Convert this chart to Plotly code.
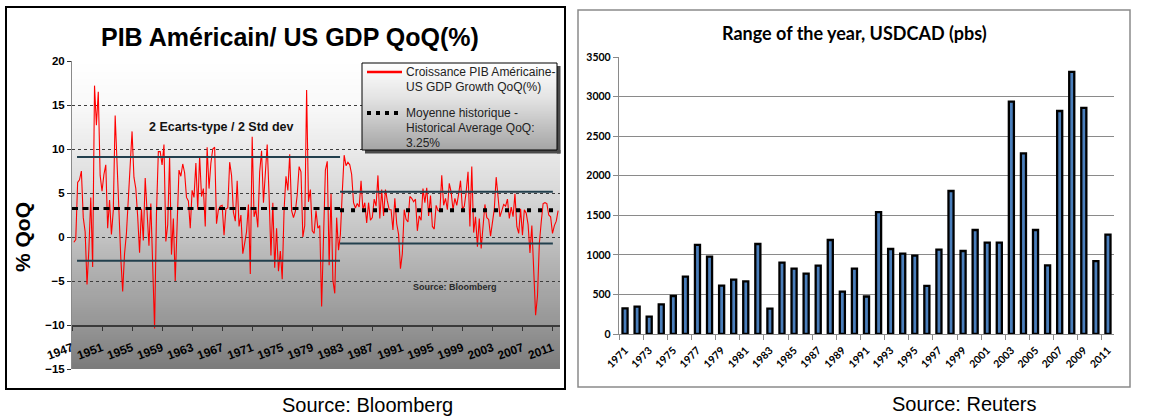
import zlib
import struct
import base64
import plotly.graph_objects as go

W, H = 1160, 419

# ---------------- data : left chart (US GDP QoQ, annualised %) ----------------
GDP_FIRST_QUARTER = 1947.25          # 1947 Q2
GDP_QOQ = [
    -0.6, -0.3, 6.2,                  # 1947
    6.5, 7.5, 2.2, 0.6,               # 1948
    -5.4, -1.4, 4.5, -3.4,            # 1949
    17.2, 12.7, 16.5, 7.0,            # 1950
    5.2, 7.1, 8.2, 1.0,               # 1951
    4.2, 0.3, 3.0, 13.8,              # 1952
    7.6, 3.1, -2.4, -6.2,             # 1953
    -1.9, 0.4, 4.6, 8.1,              # 1954
    12.0, 6.8, 5.5, 2.3,              # 1955
    -1.8, 3.2, -0.4, 6.7,             # 1956
    2.6, -1.0, 3.8, -4.1,             # 1957
    -10.4, 2.6, 9.7, 9.7,             # 1958
    8.2, 10.5, -0.5, 1.4,             # 1959
    9.2, -2.0, 2.1, -5.0,             # 1960
    2.5, 7.6, 6.9, 8.3,               # 1961
    7.3, 4.5, 4.1, 1.0,               # 1962
    5.3, 4.5, 8.4, 3.1,               # 1963
    9.2, 4.6, 5.5, 1.2,               # 1964
    10.2, 5.5, 8.4, 10.0,             # 1965
    10.2, 1.5, 3.1, 3.5,              # 1966
    3.6, 0.2, 3.2, 3.3,               # 1967
    8.5, 7.0, 2.8, 1.8,               # 1968
    6.4, 1.2, 2.5, -1.9,              # 1969
    -0.7, 0.6, 3.7, -4.2,             # 1970
    11.4, 2.3, 3.1, 1.1,              # 1971
    7.4, 9.8, 3.9, 6.8,               # 1972
    10.5, 4.7, -2.1, 3.9,             # 1973
    -3.5, 1.0, -3.9, -1.6,            # 1974
    -4.8, 3.1, 6.9, 5.3,              # 1975
    9.4, 3.0, 2.2, 2.9,               # 1976
    4.8, 8.0, 7.4, 0.0,               # 1977
    1.3, 16.7, 4.0, 5.4,              # 1978
    0.7, 0.4, 3.0, 1.0,               # 1979
    1.3, -7.9, -0.7, 7.6,             # 1980
    8.6, -3.2, 4.9, -4.9,             # 1981
    -6.4, 2.2, -1.5, 0.3,             # 1982
    5.1, 9.3, 8.1, 8.5,               # 1983
    8.2, 7.1, 3.9, 3.3,               # 1984
    3.8, 3.4, 6.4, 3.1,               # 1985
    3.9, 1.6, 3.9, 1.9,               # 1986
    2.2, 4.3, 3.5, 7.0,               # 1987
    2.1, 5.4, 2.4, 5.4,               # 1988
    4.1, 3.1, 3.1, 0.8,               # 1989
    4.4, 1.5, 0.3, -3.6,              # 1990
    -1.9, 3.1, 2.0, 1.7,              # 1991
    4.6, 4.4, 4.0, 4.3,               # 1992
    0.7, 2.4, 1.9, 5.5,               # 1993
    3.9, 5.6, 2.4, 4.7,               # 1994
    1.2, 0.9, 3.6, 3.0,               # 1995
    2.9, 7.0, 3.6, 4.4,               # 1996
    3.1, 6.1, 5.1, 3.1,               # 1997
    4.4, 3.6, 4.9, 6.4,               # 1998
    3.2, 3.5, 5.1, 7.4,               # 1999
    1.2, 8.0, 0.5, 2.3,               # 2000
    -1.1, 2.1, -1.3, 1.1,             # 2001
    3.7, 2.2, 2.0, 0.1,               # 2002
    1.6, 3.2, 6.8, 4.6,               # 2003
    2.3, 3.0, 3.7, 3.5,               # 2004
    4.3, 2.1, 3.4, 2.3,               # 2005
    4.9, 1.2, 0.4, 3.2,               # 2006
    0.2, 3.1, 2.7, 1.4,               # 2007
    -1.8, 1.3, -3.7, -8.9,            # 2008
    -6.7, -0.7, 1.7, 3.8,             # 2009
    3.9, 3.8, 2.5, 2.3,               # 2010
    0.4, 1.3, 1.8, 3.0,               # 2011
]
# historical average segments: (from, to, level)
AVG_SEGMENTS = [(1947.0, 1982.7, 3.25), (1982.7, 2012.0, 3.05)]
# two-standard-deviation bands: (from, to, upper, lower)
STD_BANDS = [(1947.67, 1982.7, 9.1, -2.7), (1982.7, 2011.05, 5.15, -0.75)]
GDP_TICK_YEARS = list(range(1947, 2012, 4))
GDP_Y_TICKS = [-15, -10, -5, 0, 5, 10, 15, 20]

# ---------------- data : right chart (USDCAD yearly range, pips) ----------------
USDCAD_YEARS = list(range(1971, 2012))
USDCAD_RANGE = [325, 345, 220, 375, 480, 724, 1125, 977, 611, 687,
                666, 1137, 320, 901, 825, 762, 863, 1188, 535, 825,
                474, 1541, 1074, 1015, 990, 607, 1066, 1807, 1049, 1314,
                1154, 1154, 2936, 2283, 1314, 868, 2818, 3311, 2856, 922,
                1255]
USDCAD_TICK_YEARS = USDCAD_YEARS[::2]
USDCAD_Y_TICKS = [0, 500, 1000, 1500, 2000, 2500, 3000, 3500]

# ---------------- helpers ----------------
ARIAL = "Liberation Sans, Arial, sans-serif"
CALI = "Lato, Carlito, Calibri, sans-serif"


def px(x):
    return x / W


def py(y):
    return 1 - y / H


def gradient_png(stops, n=160, w=4):
    rows = []
    for i in range(n):
        t = i / (n - 1)
        for (t0, g0), (t1, g1) in zip(stops[:-1], stops[1:]):
            if t0 <= t <= t1:
                g = g0 + (g1 - g0) * (t - t0) / (t1 - t0)
                break
        g = int(round(g))
        rows.append(b"\x00" + bytes([g, g, g]) * w)
    raw = b"".join(rows)

    def chunk(tag, data):
        c = struct.pack(">I", len(data)) + tag + data
        return c + struct.pack(">I", zlib.crc32(tag + data) & 0xFFFFFFFF)

    ihdr = struct.pack(">IIBBBBB", w, n, 8, 2, 0, 0, 0)
    png = (b"\x89PNG\r\n\x1a\n" + chunk(b"IHDR", ihdr)
           + chunk(b"IDAT", zlib.compress(raw)) + chunk(b"IEND", b""))
    return "data:image/png;base64," + base64.b64encode(png).decode()


# plot areas (pixels)
LX0, LX1, LY0, LY1 = 72, 560, 61, 369
RX0, RX1, RY0, RY1 = 619, 1114, 57, 334
L_YMIN, L_YMAX = -15, 20

fig = go.Figure()

# ---------------- left chart traces ----------------
gdp_x = [GDP_FIRST_QUARTER + 0.25 * i for i in range(len(GDP_QOQ))]
fig.add_trace(go.Scatter(x=gdp_x, y=GDP_QOQ, mode="lines",
                         line=dict(color="#ff0000", width=1.1),
                         xaxis="x", yaxis="y", hoverinfo="skip"))
for x0, x1, up, lo in STD_BANDS:
    for v in (up, lo):
        fig.add_trace(go.Scatter(x=[x0, x1], y=[v, v], mode="lines",
                                 line=dict(color="#23404e", width=2),
                                 xaxis="x", yaxis="y", hoverinfo="skip"))
avg_styles = [dict(width=3, dash="6px,4.5px"), dict(width=4, dash="4px,7px")]
for (x0, x1, v), st in zip(AVG_SEGMENTS, avg_styles):
    fig.add_trace(go.Scatter(x=[x0, x1], y=[v, v], mode="lines",
                             line=dict(color="#000000", **st),
                             xaxis="x", yaxis="y", hoverinfo="skip"))

# ---------------- right chart traces ----------------
fig.add_trace(go.Bar(x=USDCAD_YEARS, y=USDCAD_RANGE, width=0.42,
                     marker=dict(color="#4a7ebb",
                                 line=dict(color="#000000", width=2.3)),
                     xaxis="x2", yaxis="y2", hoverinfo="skip"))

# ---------------- axes ----------------
ydom_l = [py(LY1), py(LY0)]
x_axis_pos = ydom_l[0] + (-10 - L_YMIN) / (L_YMAX - L_YMIN) * (ydom_l[1] - ydom_l[0])

fig.update_layout(
    width=W, height=H, autosize=False,
    margin=dict(l=0, r=0, t=0, b=0, pad=0, autoexpand=False),
    paper_bgcolor="white", plot_bgcolor="rgba(0,0,0,0)",
    showlegend=False, bargap=0,
    xaxis=dict(domain=[px(LX0), px(LX1)], range=[1947, 2012],
               anchor="free", position=x_axis_pos, automargin=False,
               tickmode="array", tickvals=GDP_TICK_YEARS,
               ticktext=[str(y) for y in GDP_TICK_YEARS],
               tickangle=-20, ticks="outside", ticklen=4, tickcolor="#333333",
               ticklabelstandoff=6,
               showline=True, linecolor="#3a3a3a", linewidth=1.5,
               showgrid=False, zeroline=False,
               tickfont=dict(family=ARIAL, size=12, color="#000000", weight="bold")),
    yaxis=dict(domain=ydom_l, range=[L_YMIN, L_YMAX], anchor="x", automargin=False,
               tickmode="array", tickvals=GDP_Y_TICKS,
               ticks="outside", ticklen=4, tickcolor="#333333",
               showline=True, linecolor="#8a8a8a", linewidth=1,
               showgrid=True, gridcolor="#3c3c3c", gridwidth=1, griddash="3px,3px",
               zeroline=False,
               tickfont=dict(family=ARIAL, size=11.5, color="#000000", weight="bold")),
    xaxis2=dict(domain=[px(RX0), px(RX1)], range=[1970.5, 2011.5], anchor="y2",
                automargin=False,
                tickmode="array", tickvals=USDCAD_TICK_YEARS,
                ticktext=[str(y) for y in USDCAD_TICK_YEARS],
                tickangle=-45, ticks="", ticklabelstandoff=5,
                minor=dict(tickmode="array",
                           tickvals=[y - 0.5 for y in USDCAD_TICK_YEARS],
                           ticks="outside", ticklen=5, tickcolor="#8a8a8a",
                           showgrid=False),
                showline=True, linecolor="#8a8a8a", linewidth=1.2,
                showgrid=False, zeroline=False,
                tickfont=dict(family=CALI, size=10.5, color="#000000", weight="bold")),
    yaxis2=dict(domain=[py(RY1), py(RY0)], range=[0, 3500], anchor="x2",
                automargin=False,
                tickmode="array", tickvals=USDCAD_Y_TICKS,
                ticks="outside", ticklen=5, tickcolor="#8a8a8a",
                showline=True, linecolor="#8a8a8a", linewidth=1.2,
                showgrid=True, gridcolor="#8a8a8a", gridwidth=1.2, zeroline=False,
                tickfont=dict(family=CALI, size=10.5, color="#000000", weight="bold")),
)

# ---------------- background gradients ----------------
bg_src = gradient_png([(0.0, 255), (0.14, 249), (0.29, 234), (0.43, 216),
                       (0.57, 195), (0.71, 172), (0.86, 150), (1.0, 124)])
legend_src = gradient_png([(0.0, 255), (0.4, 228), (1.0, 165)])
fig.update_layout(images=[
    dict(source=bg_src, xref="x", yref="y", x=1947, y=L_YMAX,
         sizex=2012 - 1947, sizey=L_YMAX - L_YMIN, sizing="stretch",
         xanchor="left", yanchor="top", layer="below"),
    dict(source=legend_src, xref="paper", yref="paper", x=px(362), y=py(63),
         sizex=(557 - 362) / W, sizey=(150 - 63) / H, sizing="stretch",
         xanchor="left", yanchor="top", layer="above"),
])

# ---------------- shapes ----------------
shapes = [
    # panel frames
    dict(type="rect", xref="paper", yref="paper", x0=px(6), x1=px(565),
         y0=py(389), y1=py(7), line=dict(color="#000000", width=2)),
    dict(type="rect", xref="paper", yref="paper", x0=px(578), x1=px(1130),
         y0=py(387), y1=py(10), line=dict(color="#8a8a8a", width=1.5)),
    # legend shadow
    dict(type="rect", xref="paper", yref="paper", x0=px(557), x1=px(560.5),
         y0=py(153.5), y1=py(66), fillcolor="#4a4a4a", line=dict(width=0), layer="above"),
    dict(type="rect", xref="paper", yref="paper", x0=px(365), x1=px(560.5),
         y0=py(153.5), y1=py(150), fillcolor="#4a4a4a", line=dict(width=0), layer="above"),
    # legend frame
    dict(type="rect", xref="paper", yref="paper", x0=px(362), x1=px(557),
         y0=py(150), y1=py(63), line=dict(color="#000000", width=1), layer="above"),
    # legend samples
    dict(type="line", xref="paper", yref="paper", x0=px(367), x1=px(402),
         y0=py(72), y1=py(72), line=dict(color="#ff0000", width=2.5), layer="above"),
    dict(type="line", xref="paper", yref="paper", x0=px(367), x1=px(400),
         y0=py(113), y1=py(113), line=dict(color="#000000", width=4, dash="4px,5px"),
         layer="above"),
]
fig.update_layout(shapes=shapes)

# ---------------- texts ----------------
ann = []


def text(t, x, y, size, family=ARIAL, bold=False, color="#000000",
         xanchor="center", ref="paper", angle=0):
    ann.append(dict(text=t, x=x, y=y, xref=ref if ref == "paper" else "x",
                    yref=ref if ref == "paper" else "y",
                    showarrow=False, xanchor=xanchor, yanchor="middle",
                    textangle=angle,
                    font=dict(family=family, size=size, color=color,
                              weight="bold" if bold else "normal")))


text("PIB Américain/ US GDP QoQ(%)", px(290), py(37), 25, bold=True)
text("% QoQ", px(22), py(237), 21, bold=True, angle=-90)
text("2 Ecarts-type / 2 Std dev", 1966.85, 12.45, 12.5, bold=True,
     color="#111111", ref="data")
text("Source: Bloomberg", 1998.0, -5.7, 9, bold=True, color="#2a2a2a", ref="data")
legend_lines = [("Croissance PIB Américaine-", 72), ("US GDP Growth QoQ(%)", 87),
                ("Moyenne historique -", 113), ("Historical Average QoQ:", 128),
                ("3.25%", 143)]
for t, yy in legend_lines:
    text(t, px(404), py(yy), 12, color="#222222", xanchor="left")
text("Source: Bloomberg", px(367), py(405), 20)

text("Range of the year, USDCAD (pbs)", px(854), py(33), 18, family=CALI, bold=True)
text("Source: Reuters", px(964), py(404), 20)

fig.update_layout(annotations=ann)

fig.write_html(
    "out.html",
    config={"displayModeBar": False, "staticPlot": True},
    post_script="document.body.style.margin='0';"
                "document.body.style.overflow='hidden';",
)
